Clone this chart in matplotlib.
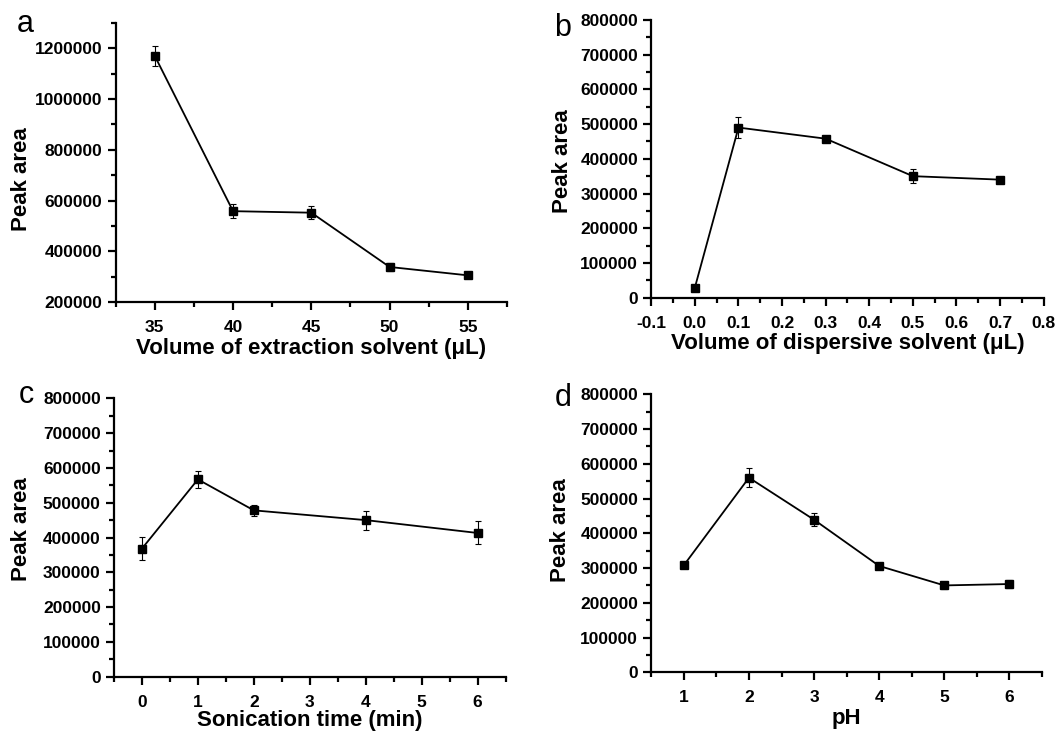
import matplotlib
matplotlib.use('Agg')
import matplotlib.pyplot as plt
from matplotlib.ticker import MultipleLocator, FormatStrFormatter

plt.rcParams['font.family'] = ['Liberation Sans', 'DejaVu Sans']
plt.rcParams['font.weight'] = 'bold'

# a - extraction solvent volume
vol_ext = [35, 40, 45, 50, 55]
area_ext = [1170000, 558000, 552000, 338000, 305000]
err_ext = [38000, 28000, 25000, 15000, 5000]

# b - dispersive solvent volume
vol_disp = [0.0, 0.1, 0.3, 0.5, 0.7]
area_disp = [29000, 490000, 458000, 350000, 340000]
err_disp = [4000, 30000, 8000, 20000, 5000]

# c - sonication time
son_time = [0, 1, 2, 4, 6]
area_son = [368000, 567000, 478000, 450000, 413000]
err_son = [34000, 25000, 16000, 27000, 33000]

# d - pH
ph = [1, 2, 3, 4, 5, 6]
area_ph = [308000, 560000, 439000, 306000, 250000, 254000]
err_ph = [5000, 28000, 18000, 4000, 10000, 12000]

fig = plt.figure(figsize=(10.64, 7.31), dpi=100)


def style_axes(ax, ylab_x, ylab_y):
    for side in ['top', 'right']:
        ax.spines[side].set_visible(False)
    for side in ['left', 'bottom']:
        ax.spines[side].set_linewidth(1.6)
    ax.tick_params(which='major', direction='out', length=6, width=1.6, labelsize=12.5)
    ax.tick_params(which='minor', direction='out', length=3.5, width=1.6)
    ax.tick_params(axis='x', pad=7)
    for lab in ax.get_xticklabels() + ax.get_yticklabels():
        lab.set_fontweight('bold')
    ax.yaxis.set_major_formatter(FormatStrFormatter('%d'))
    ax.set_ylabel('Peak area', fontsize=16, fontweight='bold')
    ax.yaxis.set_label_coords(ylab_x, ylab_y)


def draw(ax, x, y, err):
    ax.errorbar(x, y, yerr=err, color='black', linewidth=1.3, marker='s',
                markersize=5.5, elinewidth=0.8, capsize=2.5, capthick=0.8)


# panel a
ax1 = fig.add_axes([0.1087, 0.5869, 0.3678, 0.3817])
draw(ax1, vol_ext, area_ext, err_ext)
ax1.set_xlim(32.5, 57.5)
ax1.set_ylim(200000, 1300000)
ax1.xaxis.set_major_locator(MultipleLocator(5))
ax1.xaxis.set_minor_locator(MultipleLocator(2.5))
ax1.yaxis.set_major_locator(MultipleLocator(200000))
ax1.yaxis.set_minor_locator(MultipleLocator(100000))
style_axes(ax1, -0.215, 0.44)
ax1.set_xlabel('Volume of extraction solvent (\u03bcL)', fontsize=16, fontweight='bold', labelpad=2)

# panel b
ax2 = fig.add_axes([0.6121, 0.5928, 0.3688, 0.3799])
draw(ax2, vol_disp, area_disp, err_disp)
ax2.set_xlim(-0.1, 0.8)
ax2.set_ylim(0, 800000)
ax2.xaxis.set_major_locator(MultipleLocator(0.1))
ax2.xaxis.set_minor_locator(MultipleLocator(0.05))
ax2.xaxis.set_major_formatter(FormatStrFormatter('%.1f'))
ax2.yaxis.set_major_locator(MultipleLocator(100000))
ax2.yaxis.set_minor_locator(MultipleLocator(50000))
style_axes(ax2, -0.20, 0.49)
ax2.set_xlabel('Volume of dispersive solvent (\u03bcL)', fontsize=16, fontweight='bold', labelpad=2)

# panel c
ax3 = fig.add_axes([0.1071, 0.0743, 0.3681, 0.3808])
draw(ax3, son_time, area_son, err_son)
ax3.set_xlim(-0.5, 6.5)
ax3.set_ylim(0, 800000)
ax3.xaxis.set_major_locator(MultipleLocator(1))
ax3.xaxis.set_minor_locator(MultipleLocator(0.5))
ax3.yaxis.set_major_locator(MultipleLocator(100000))
ax3.yaxis.set_minor_locator(MultipleLocator(50000))
style_axes(ax3, -0.21, 0.53)
ax3.set_xlabel('Sonication time (min)', fontsize=16, fontweight='bold', labelpad=0)

# panel d
ax4 = fig.add_axes([0.6121, 0.0803, 0.3672, 0.3803])
draw(ax4, ph, area_ph, err_ph)
ax4.set_xlim(0.5, 6.5)
ax4.set_ylim(0, 800000)
ax4.xaxis.set_major_locator(MultipleLocator(1))
ax4.xaxis.set_minor_locator(MultipleLocator(0.5))
ax4.yaxis.set_major_locator(MultipleLocator(100000))
ax4.yaxis.set_minor_locator(MultipleLocator(50000))
style_axes(ax4, -0.205, 0.51)
ax4.set_xlabel('pH', fontsize=16, fontweight='bold', labelpad=2)

# panel letters
fig.text(25 / 1064, 1 - 32 / 731, 'a', fontsize=22, fontweight='normal', ha='center', va='baseline')
fig.text(563 / 1064, 1 - 36 / 731, 'b', fontsize=22, fontweight='normal', ha='center', va='baseline')
fig.text(26 / 1064, 1 - 403 / 731, 'c', fontsize=22, fontweight='normal', ha='center', va='baseline')
fig.text(563 / 1064, 1 - 406 / 731, 'd', fontsize=22, fontweight='normal', ha='center', va='baseline')

fig.savefig('out.png', dpi=100)
